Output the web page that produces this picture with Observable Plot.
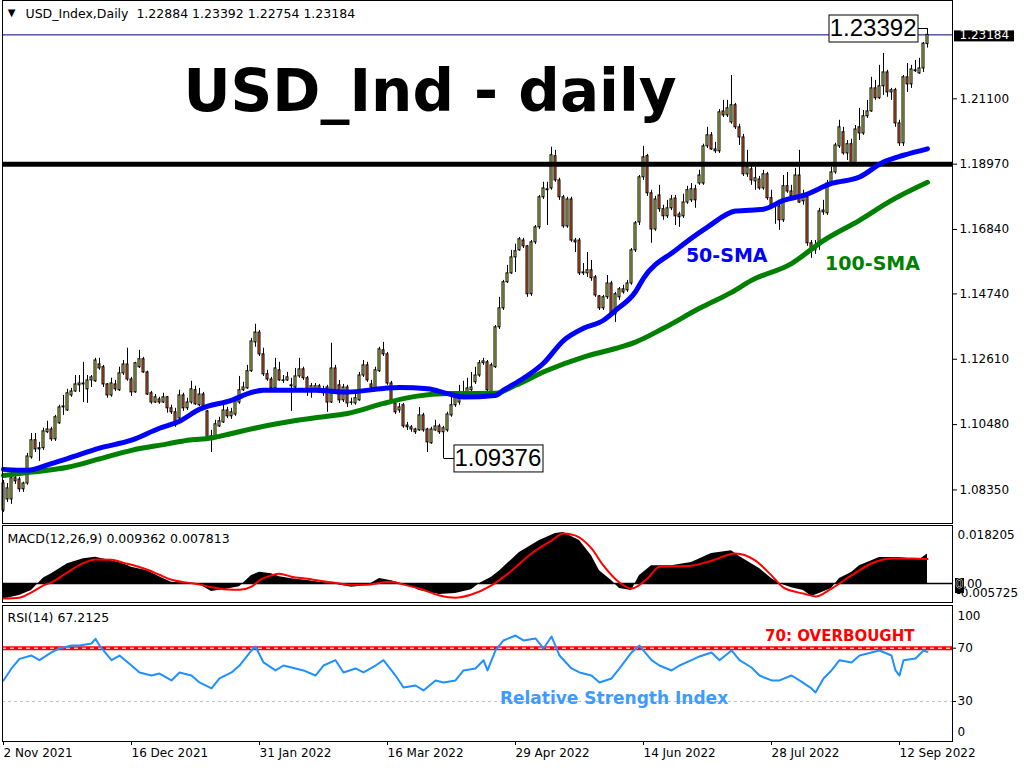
<!DOCTYPE html>
<html><head><meta charset="utf-8">
<script src="https://cdn.jsdelivr.net/npm/d3@7"></script>
<script src="https://cdn.jsdelivr.net/npm/@observablehq/plot@0.6"></script>
<style>
body{margin:0;background:#fff;}
#wrap{position:relative;width:1024px;height:768px;overflow:hidden;background:#fff;}
</style></head><body><div id="wrap"></div>
<script>
// ---------- DATA ----------
const openP = [
1.0768,1.0804,1.0804,1.0873,1.0869,1.0837,1.0856,1.0941,1.0997,1.0971,
1.0971,1.1023,1.1032,1.1000,1.1052,1.1104,1.1094,1.1143,1.1156,1.1176,
1.1179,1.1163,1.1192,1.1189,1.1244,1.1235,1.1179,1.1143,1.1179,1.1160,
1.1215,1.1244,1.1195,1.1153,1.1235,1.1261,1.1218,1.1150,1.1120,1.1130,
1.1120,1.1137,1.1101,1.1088,1.1068,1.1143,1.1101,1.1120,1.1160,1.1111,
1.1146,1.1091,1.1006,1.1006,1.1042,1.1055,1.1094,1.1075,1.1081,1.1120,
1.1160,1.1166,1.1222,1.1316,1.1348,1.1277,1.1212,1.1195,1.1166,1.1225,
1.1192,1.1192,1.1173,1.1169,1.1205,1.1228,1.1199,1.1160,1.1163,1.1173,
1.1160,1.1169,1.1120,1.1231,1.1176,1.1127,1.1169,1.1120,1.1117,1.1127,
1.1208,1.1241,1.1179,1.1166,1.1222,1.1290,1.1277,1.1182,1.1117,1.1094,
1.1111,1.1045,1.1039,1.1032,1.1029,1.1078,1.1032,1.0987,1.1029,1.1042,
1.1023,1.1029,1.1078,1.1111,1.1120,1.1140,1.1150,1.1160,1.1186,1.1208,
1.1248,1.1251,1.1153,1.1235,1.1365,1.1427,1.1512,1.1541,1.1593,1.1616,
1.1648,1.1629,1.1473,1.1642,1.1691,1.1789,1.1815,1.1818,1.1923,1.1844,
1.1789,1.1694,1.1782,1.1648,1.1648,1.1544,1.1541,1.1551,1.1528,1.1466,
1.1427,1.1463,1.1508,1.1407,1.1463,1.1489,1.1486,1.1508,1.1616,1.1707,
1.1854,1.1923,1.1802,1.1684,1.1795,1.1750,1.1727,1.1753,1.1785,1.1733,
1.1727,1.1772,1.1779,1.1815,1.1834,1.1834,1.1955,1.1991,1.1945,1.1939,
1.2069,1.2056,1.2033,1.2089,1.2017,1.1984,1.1864,1.1880,1.1841,1.1847,
1.1818,1.1864,1.1786,1.1763,1.1759,1.1714,1.1825,1.1808,1.1789,1.1860,
1.1776,1.1789,1.1639,1.1616,1.1632,1.1746,1.1737,1.1834,1.1870,1.1955,
1.2001,1.1932,1.1962,1.1900,1.2017,1.1997,1.2053,1.2069,1.2144,1.2112,
1.2151,1.2196,1.2131,1.2138,1.2030,1.1965,1.2180,1.2157,1.2203,1.2193,
1.2209,1.22884];
const highP = [
1.0866,1.0856,1.0876,1.0882,1.0876,1.0860,1.0954,1.1019,1.1019,1.0990,
1.1036,1.1059,1.1039,1.1078,1.1111,1.1143,1.1163,1.1166,1.1208,1.1208,
1.1251,1.1208,1.1208,1.1264,1.1264,1.1241,1.1182,1.1199,1.1192,1.1235,
1.1257,1.1297,1.1202,1.1251,1.1290,1.1267,1.1222,1.1156,1.1146,1.1137,
1.1150,1.1140,1.1111,1.1101,1.1160,1.1150,1.1134,1.1189,1.1173,1.1166,
1.1153,1.1094,1.1029,1.1062,1.1072,1.1117,1.1104,1.1101,1.1140,1.1205,
1.1186,1.1241,1.1329,1.1375,1.1355,1.1297,1.1225,1.1202,1.1264,1.1251,
1.1208,1.1218,1.1199,1.1231,1.1264,1.1235,1.1205,1.1182,1.1182,1.1179,
1.1173,1.1176,1.1313,1.1241,1.1192,1.1179,1.1176,1.1134,1.1146,1.1218,
1.1257,1.1251,1.1192,1.1235,1.1300,1.1316,1.1283,1.1189,1.1127,1.1117,
1.1117,1.1055,1.1045,1.1036,1.1104,1.1085,1.1036,1.1039,1.1062,1.1049,
1.1042,1.1088,1.1137,1.1150,1.1176,1.1189,1.1199,1.1218,1.1235,1.1257,
1.1264,1.1257,1.1248,1.1371,1.1463,1.1518,1.1567,1.1616,1.1636,1.1658,
1.1655,1.1632,1.1648,1.1697,1.1795,1.1838,1.1838,1.1952,1.1942,1.1851,
1.1795,1.1789,1.1789,1.1655,1.1655,1.1573,1.1609,1.1583,1.1534,1.1469,
1.1469,1.1534,1.1515,1.1479,1.1495,1.1502,1.1518,1.1622,1.1710,1.1860,
1.1955,1.1929,1.1812,1.1792,1.1828,1.1763,1.1779,1.1795,1.1795,1.1740,
1.1799,1.1825,1.1834,1.1828,1.1877,1.1962,1.2017,1.2000,1.1968,1.2075,
1.2105,1.2105,1.2186,1.2095,1.2027,1.1994,1.1942,1.1897,1.1887,1.1857,
1.1877,1.1870,1.1812,1.1772,1.1766,1.1860,1.1870,1.1828,1.1883,1.1942,
1.1812,1.1795,1.1648,1.1648,1.1753,1.1779,1.1844,1.1887,1.1965,1.2040,
1.2017,1.1974,1.1978,1.2023,1.2079,1.2072,1.2105,1.2180,1.2170,1.2219,
1.2258,1.2203,1.2144,1.2144,1.2040,1.2186,1.2225,1.2219,1.2235,1.2242,
1.2294,1.23392];
const lowP = [
1.0762,1.0794,1.0788,1.0853,1.0827,1.0827,1.0850,1.0935,1.0957,1.0928,
1.0964,1.1019,1.0993,1.0993,1.1049,1.1078,1.1091,1.1137,1.1153,1.1153,
1.1120,1.1117,1.1169,1.1186,1.1225,1.1169,1.1134,1.1137,1.1156,1.1156,
1.1208,1.1189,1.1140,1.1150,1.1231,1.1215,1.1143,1.1114,1.1117,1.1114,
1.1117,1.1085,1.1081,1.1039,1.1062,1.1091,1.1094,1.1114,1.1111,1.1107,
1.1101,1.0997,1.0957,1.1003,1.1039,1.1052,1.1068,1.1065,1.1075,1.1114,
1.1156,1.1163,1.1218,1.1300,1.1270,1.1205,1.1189,1.1160,1.1163,1.1189,
1.1182,1.1189,1.1091,1.1166,1.1199,1.1192,1.1140,1.1134,1.1153,1.1150,
1.1140,1.1088,1.1117,1.1153,1.1117,1.1120,1.1104,1.1111,1.1111,1.1124,
1.1202,1.1186,1.1160,1.1160,1.1218,1.1270,1.1176,1.1120,1.1081,1.1085,
1.1036,1.1029,1.1023,1.1016,1.1026,1.1023,1.0957,1.0984,1.1026,1.1016,
1.09376,1.1023,1.1072,1.1104,1.1111,1.1134,1.1134,1.1153,1.1179,1.1202,
1.1241,1.1150,1.1150,1.1231,1.1358,1.1420,1.1508,1.1538,1.1544,1.1613,
1.1622,1.1463,1.1466,1.1635,1.1684,1.1782,1.1697,1.1812,1.1838,1.1779,
1.1688,1.1688,1.1642,1.1609,1.1534,1.1534,1.1528,1.1515,1.1463,1.1420,
1.1420,1.1456,1.1404,1.1381,1.1453,1.1473,1.1479,1.1502,1.1609,1.1697,
1.1844,1.1792,1.1639,1.1678,1.1740,1.1714,1.1720,1.1746,1.1697,1.1691,
1.1720,1.1766,1.1772,1.1753,1.1828,1.1828,1.1948,1.1942,1.1932,1.1932,
1.2049,1.2049,1.2027,1.2010,1.1958,1.1857,1.1854,1.1828,1.1812,1.1812,
1.1812,1.1779,1.1756,1.1701,1.1681,1.1707,1.1802,1.1785,1.1782,1.1769,
1.1763,1.1629,1.1590,1.1603,1.1616,1.1730,1.1730,1.1828,1.1864,1.1948,
1.1926,1.1909,1.1890,1.1893,1.1974,1.1991,1.2046,1.2066,1.2105,1.2108,
1.2121,1.2115,1.2105,1.2017,1.1955,1.1955,1.2131,1.2144,1.2196,1.2190,
1.2196,1.22754];
const closeP = [
1.0856,1.0840,1.0873,1.0863,1.0837,1.0856,1.0944,1.0997,1.0967,1.0967,
1.1026,1.1032,1.1000,1.1072,1.1104,1.1107,1.1150,1.1156,1.1179,1.1182,
1.1182,1.1192,1.1202,1.1257,1.1231,1.1179,1.1143,1.1182,1.1163,1.1215,
1.1244,1.1195,1.1153,1.1248,1.1261,1.1218,1.1146,1.1120,1.1137,1.1120,
1.1137,1.1101,1.1088,1.1045,1.1143,1.1101,1.1120,1.1163,1.1114,1.1146,
1.1107,1.1006,1.1010,1.1049,1.1059,1.1094,1.1075,1.1088,1.1127,1.1160,
1.1169,1.1222,1.1319,1.1348,1.1277,1.1212,1.1195,1.1166,1.1231,1.1192,
1.1190,1.1202,1.1176,1.1205,1.1228,1.1199,1.1160,1.1173,1.1173,1.1160,
1.1150,1.1120,1.1231,1.1160,1.1127,1.1169,1.1117,1.1119,1.1134,1.1208,
1.1241,1.1192,1.1169,1.1225,1.1293,1.1277,1.1182,1.1127,1.1088,1.1104,
1.1042,1.1039,1.1032,1.1023,1.1078,1.1029,1.0990,1.1032,1.1042,1.1023,
1.1036,1.1081,1.1111,1.1137,1.1143,1.1153,1.1166,1.1169,1.1208,1.1248,
1.1254,1.1160,1.1241,1.1365,1.1427,1.1512,1.1541,1.1593,1.1613,1.1652,
1.1629,1.1473,1.1642,1.1691,1.1789,1.1818,1.1812,1.1926,1.1844,1.1789,
1.1694,1.1782,1.1648,1.1642,1.1541,1.1541,1.1551,1.1525,1.1469,1.1427,
1.1463,1.1508,1.1411,1.1473,1.1489,1.1479,1.1508,1.1616,1.1704,1.1854,
1.1919,1.1802,1.1684,1.1782,1.1750,1.1727,1.1753,1.1782,1.1727,1.1724,
1.1772,1.1812,1.1815,1.1779,1.1860,1.1955,1.1991,1.1945,1.1939,1.2066,
1.2056,1.2079,1.2089,1.2017,1.1984,1.1864,1.1887,1.1844,1.1851,1.1818,
1.1864,1.1786,1.1763,1.1759,1.1714,1.1825,1.1808,1.1792,1.1860,1.1772,
1.1789,1.1639,1.1616,1.1629,1.1743,1.1740,1.1834,1.1870,1.1958,1.2017,
1.1932,1.1962,1.1900,1.2010,1.1997,1.2053,1.2069,1.2144,1.2112,1.2151,
1.2196,1.2131,1.2138,1.2030,1.1965,1.2180,1.2157,1.2206,1.2200,1.2209,
1.2290,1.23184];

const sma50Idx = [0,6,12,16,24,32,39,44,49,57,62,65,78,86,95,99,106,111,115,123,125,130,135,140,145,150,153,158,160,168,176,183,190,195,200,207,214,220,225,231];
const sma50Val = [1.0902,1.0899,1.0921,1.0937,1.0971,1.0997,1.1036,1.1059,1.1098,1.1127,1.1153,1.1160,1.1160,1.1154,1.1166,1.1169,1.1165,1.1149,1.1138,1.1143,1.1160,1.1199,1.1248,1.1322,1.1362,1.1388,1.1420,1.1481,1.1525,1.1616,1.1692,1.1744,1.1750,1.1779,1.1795,1.1834,1.1855,1.1904,1.1926,1.1947];
const sma100Idx = [0,7,16,24,32,41,46,52,57,66,72,79,86,95,103,111,123,128,136,145,153,158,165,174,182,187,197,205,214,222,231];
const sma100Val = [1.0882,1.0893,1.0909,1.0936,1.0964,1.0985,1.0997,1.1004,1.1019,1.1045,1.1059,1.1072,1.1084,1.1117,1.1140,1.1149,1.1150,1.1176,1.1225,1.1268,1.1296,1.1317,1.1362,1.1427,1.1479,1.1518,1.1573,1.1648,1.1714,1.1779,1.1838];

const macdIdx = [0,4,7,10,12,16,20,23,27,30,32,36,39,42,46,49,52,56,59,62,64,67,69,72,76,79,82,87,91,94,97,102,104,109,113,117,119,122,124,129,134,138,140,144,147,149,152,154,157,159,162,167,172,177,182,184,189,192,194,197,200,202,204,207,209,212,214,219,224,229,231];
const macdVal = [-0.0049,-0.0038,-0.0022,0.0018,0.0031,0.0063,0.0079,0.0084,0.0073,0.0063,0.0052,0.0041,0.0022,0.0004,0.0001,-0.0003,-0.0025,-0.0017,-0.0010,0.0026,0.0036,0.0031,0.0022,0.0015,0.0010,0.0004,0.0000,-0.0012,-0.0006,0.0016,0.0009,-0.0010,-0.0022,-0.0035,-0.0032,-0.0020,0.0000,0.0020,0.0040,0.0099,0.0137,0.0160,0.0163,0.0137,0.0089,0.0041,0.0010,-0.0016,-0.0022,0.0026,0.0057,0.0057,0.0067,0.0096,0.0105,0.0086,0.0048,0.0016,0.0000,-0.0013,-0.0022,-0.0041,-0.0032,-0.0016,0.0016,0.0035,0.0057,0.0083,0.0083,0.0076,0.0094];
const sigIdx = [0,4,7,10,12,16,20,23,27,30,32,36,39,42,46,49,52,56,59,62,64,67,69,72,76,79,82,87,91,94,97,99,104,109,113,117,122,127,132,137,140,143,147,150,154,157,161,164,172,177,183,188,192,195,200,203,207,212,217,222,227,231];
const sigVal = [-0.0048,-0.0045,-0.0028,-0.0006,0.0004,0.0036,0.0065,0.0077,0.0076,0.0066,0.0060,0.0044,0.0028,0.0012,0.0003,-0.0003,-0.0012,-0.0019,-0.0020,-0.0010,0.0010,0.0026,0.0031,0.0022,0.0015,0.0009,0.0004,-0.0004,-0.0004,0.0002,0.0006,0.0000,-0.0016,-0.0038,-0.0045,-0.0035,-0.0006,0.0041,0.0096,0.0137,0.0160,0.0153,0.0112,0.0057,0.0003,-0.0016,0.0016,0.0054,0.0057,0.0073,0.0096,0.0073,0.0026,-0.0013,-0.0032,-0.0041,-0.0016,0.0026,0.0064,0.0080,0.0080,0.0078];
const macdMain = 0.009362, macdSignal = 0.007813, macdMax = 0.018205, macdMin = -0.005725;

const rsiIdx = [0,2,4,7,9,12,14,17,19,22,23,24,27,29,32,34,37,39,42,44,47,49,52,54,57,59,62,63,65,68,70,73,75,78,80,83,85,88,90,93,95,98,100,103,105,108,110,113,115,118,120,121,123,125,128,130,133,135,137,139,142,144,147,149,152,154,157,159,162,164,167,169,172,174,177,179,182,184,187,189,192,194,197,199,202,203,205,207,209,212,214,217,219,222,223,224,225,228,230,231];
const rsiVal = [45.8,54.8,62,64.5,61,66.8,69.8,72,72,73.5,77,72,61,64.5,57,51.8,49.5,51,45.8,51.8,49.5,44.3,39.8,47.3,51.8,57,68.3,71.3,59.3,53.3,57,54.8,53.3,49.5,57,61,51.8,54.8,51.8,57,61,49.5,40.5,42,38.3,45.8,44.3,45.8,53.3,54.8,61,53.3,68.3,75.8,79.5,75.8,77.3,69.8,78.8,64.5,54.8,51.8,49.5,44.3,47.3,54.8,66.8,72,61,57,53.3,57,61,63.8,66.8,61,68.3,61,55.5,49.5,45.8,45.8,49.5,45.8,39.8,36.8,47.3,53.3,61,59.3,64.5,66.8,68.3,64.5,53.3,49.5,61,62.3,68.3,67.2];
const rsiLast = 67.2125;
const rsiLevels = [30, 70];

const xTickIdx = [0,32,64,96,128,160,192,224];
const xTickLabels = ["2 Nov 2021","16 Dec 2021","31 Jan 2022","16 Mar 2022","29 Apr 2022","14 Jun 2022","28 Jul 2022","12 Sep 2022"];
const yTicks = [1.2110,1.1897,1.1684,1.1474,1.1261,1.1048,1.0835];
const levelLine = 1.1897;
const lowMark = {i:110, v:1.09376};
const highMark = {i:231, v:1.23392};
const mainNotes = [{t:"50-SMA", i:170.6, v:1.1599, c:"#0000ff"}, {t:"100-SMA", i:205.4, v:1.1573, c:"#008000"}];
const rsiNotes = [{t:"70: OVERBOUGHT", i:190.4, v:78.8, c:"#ff0000"}, {t:"Relative Strength Index", i:124.1, v:32.3, c:"#3d9bff"}];

// ---------- DRAWING ----------
const FONT = "DejaVu Sans, sans-serif";
const bull = "#d8e860", bear = "#f46c2c";
const last = closeP.length - 1;
const candles = closeP.map((c, i) => ({i, o: openP[i], h: highP[i], l: lowP[i], c}));
const sma50 = sma50Idx.map((i, k) => ({i, v: sma50Val[k]}));
const sma100 = sma100Idx.map((i, k) => ({i, v: sma100Val[k]}));
const macdD = macdIdx.map((i, k) => ({i, v: macdVal[k]}));
const sigD = sigIdx.map((i, k) => ({i, v: sigVal[k]}));
const rsiD = rsiIdx.map((i, k) => ({i, v: rsiVal[k]}));
const lastClose = closeP[last];
const f5 = d3.format(".5f");
const header = "USD_Index,Daily\u00a0\u00a0" + [openP[last], highP[last], lowP[last], closeP[last]].map(f5).join(" ");
// Plot adds a 0.5px offset at devicePixelRatio 1, so integer pixel ranges give crisp 1px lines
const XS = {domain: [0, 231], range: [3, 927]};
const baseStyle = {fontFamily: FONT, fontSize: "12px", color: "black", background: "transparent", overflow: "visible"};

const main = Plot.plot({
  width: 1024, height: 524, marginLeft: 2, marginRight: 72, marginTop: 0, marginBottom: 1,
  x: {...XS, axis: null},
  y: {domain: [1.07288, 1.24305], range: [522, 0]},
  color: {type: "identity"},
  style: baseStyle,
  marks: [
    Plot.ruleY([lastClose], {stroke: "#000080", strokeWidth: 1}),
    Plot.ruleX(candles, {x: "i", y1: "l", y2: "h", stroke: "black", strokeWidth: 1}),
    Plot.rect(candles, {x1: d => d.i - 0.25, x2: d => d.i + 0.25, y1: "o", y2: "c",
      fill: d => d.c >= d.o ? bull : bear, stroke: "black", strokeWidth: 1}),
    Plot.ruleY([levelLine], {stroke: "black", strokeWidth: 5}),
    Plot.line(sma100, {x: "i", y: "v", stroke: "#008000", strokeWidth: 5, curve: "monotone-x"}),
    Plot.line(sma50, {x: "i", y: "v", stroke: "#0000ff", strokeWidth: 5, curve: "monotone-x"}),
    Plot.axisY({anchor: "right", ticks: yTicks, tickFormat: f5, tickSize: 4, tickPadding: 3, label: null}),
    Plot.text([lastClose], {y: d => d, text: d => f5(d), frameAnchor: "right", dx: 7, textAnchor: "start", fill: "white"}),
    Plot.text(["\u25BC"], {text: d => d, frameAnchor: "top-left", lineAnchor: "middle", dx: 9, dy: 12.5, fontSize: 10, textAnchor: "middle"}),
    Plot.text([header], {text: d => d, frameAnchor: "top-left", lineAnchor: "middle", dx: 23, dy: 13, textAnchor: "start", fontSize: 12.5}),
    Plot.text(["USD_Ind - daily"], {text: d => d, frameAnchor: "top-left", lineAnchor: "middle", dx: 181, dy: 92, textAnchor: "start",
      fontSize: 58, fontWeight: "bold", fontFamily: FONT}),
    Plot.text(mainNotes, {x: "i", y: "v", text: "t", fill: "c", textAnchor: "start", fontSize: 19, fontWeight: "bold"}),
    Plot.text([highMark], {x: "i", y: "v", text: d => f5(d.v), textAnchor: "end", dx: -11, fontSize: 24, fontFamily: "Liberation Sans, Arial, sans-serif"}),
    Plot.text([lowMark], {x: "i", y: "v", text: d => f5(d.v), textAnchor: "start", dx: 11, fontSize: 24, fontFamily: "Liberation Sans, Arial, sans-serif"}),
    Plot.frame({stroke: "black"})
  ]
});

const macd = Plot.plot({
  width: 1024, height: 80, marginLeft: 2, marginRight: 72, marginTop: 1, marginBottom: 2,
  x: {...XS, axis: null},
  y: {domain: [macdMin, macdMax], range: [77, 2], axis: null},
  style: baseStyle,
  marks: [
    Plot.areaY(macdD, {x: "i", y: "v", fill: "black"}),
    Plot.ruleY([0], {stroke: "black", strokeWidth: 1.5}),
    Plot.line(sigD, {x: "i", y: "v", stroke: "#ff0000", strokeWidth: 2, curve: "monotone-x"}),
    Plot.text(["MACD(12,26,9) " + macdMain.toFixed(6) + " " + macdSignal.toFixed(6)], {text: d => d, frameAnchor: "top-left", lineAnchor: "middle", dx: 5, dy: 13, textAnchor: "start", fontSize: 12.5}),
    Plot.text([macdMax], {y: d => d, text: d => d.toFixed(6), frameAnchor: "right", dx: 5, dy: 9, textAnchor: "start"}),
    Plot.text([macdMin], {y: d => d, text: d => d.toFixed(6), frameAnchor: "right", dx: 4, dy: -8, textAnchor: "start"}),
    Plot.text([0], {y: d => d, text: d => d.toFixed(2), frameAnchor: "right", dx: 3, dy: 1, textAnchor: "start", fill: "black", stroke: "white", strokeWidth: 0.8}),
    Plot.frame({stroke: "black"})
  ]
});

const rsi = Plot.plot({
  width: 1024, height: 164, marginLeft: 2, marginRight: 72, marginTop: 1, marginBottom: 27,
  x: XS,
  y: {domain: [0, 100], range: [137, 3.7]},
  style: baseStyle,
  marks: [
    Plot.ruleY([rsiLevels[0]], {stroke: "#c0c0c0", strokeDasharray: "3,3"}),
    Plot.ruleY([rsiLevels[1]], {stroke: "#ff0000", strokeWidth: 4}),
    Plot.ruleY([rsiLevels[1]], {stroke: "white", strokeDasharray: "4,4", strokeWidth: 1}),
    Plot.line(rsiD, {x: "i", y: "v", stroke: "#1e90ff", strokeWidth: 2}),
    Plot.text(rsiNotes.slice(0, 1), {x: "i", y: "v", text: "t", fill: "c", textAnchor: "start", fontSize: 15, fontWeight: "bold"}),
    Plot.text(rsiNotes.slice(1), {x: "i", y: "v", text: "t", fill: "c", textAnchor: "start", fontSize: 17, fontWeight: "bold"}),
    Plot.text(["RSI(14) " + rsiLast.toFixed(4)], {text: d => d, frameAnchor: "top-left", lineAnchor: "middle", dx: 5, dy: 12, textAnchor: "start", fontSize: 12.5}),
    Plot.axisY({anchor: "right", ticks: rsiLevels, tickSize: 3, tickPadding: 2, label: null}),
    Plot.text([100], {y: d => d, text: d => String(d), frameAnchor: "right", dx: 5, dy: 8, textAnchor: "start"}),
    Plot.text([0], {y: d => d, text: d => String(d), frameAnchor: "right", dx: 5, dy: -9, textAnchor: "start"}),
    Plot.axisX({ticks: xTickIdx, tickFormat: d => xTickLabels[xTickIdx.indexOf(d)], textAnchor: "start", tickSize: 4, tickPadding: 3, label: null}),
    Plot.frame({stroke: "black"})
  ]
});

const wrap = document.getElementById("wrap");
[[main, 0], [macd, 524], [rsi, 604]].forEach(([svg, top]) => {
  svg.style.position = "absolute"; svg.style.left = "0px"; svg.style.top = top + "px";
  wrap.appendChild(svg);
});

// ---------- label boxes ----------
const NS = "http://www.w3.org/2000/svg";
function addBox(svg, str, o) {
  const t = Array.from(svg.querySelectorAll("text")).find(e => e.textContent === str);
  if (!t) return null;
  const b = t.getBBox();
  const r = document.createElementNS(NS, "rect");
  const x = Math.round(b.x - o.l) + 0.5, y = Math.round(b.y - o.t) + 0.5;
  const w = Math.round(o.w != null ? o.w : b.width + o.l + o.r);
  r.setAttribute("x", x); r.setAttribute("y", y);
  r.setAttribute("width", w); r.setAttribute("height", Math.round(b.height + o.t + o.b));
  r.setAttribute("fill", o.fill); r.setAttribute("stroke", o.stroke || "none");
  if (t.getAttribute("transform")) r.setAttribute("transform", t.getAttribute("transform"));
  t.parentNode.insertBefore(r, t);
  return r;
}
function leader(svg, rect, side, xv, yv, chart) {
  const sb = svg.getBoundingClientRect(), rb = rect.getBoundingClientRect();
  const xp = chart.scale("x").apply(xv) + 0.5, yp = Math.round(chart.scale("y").apply(yv)) + 0.5;
  const ex = side === "right" ? rb.right - sb.left : rb.left - sb.left;
  const ln = document.createElementNS(NS, "line");
  ln.setAttribute("x1", ex); ln.setAttribute("x2", xp);
  ln.setAttribute("y1", yp); ln.setAttribute("y2", yp);
  ln.setAttribute("stroke", "black"); ln.setAttribute("stroke-width", 1);
  svg.appendChild(ln);
}
const hb = addBox(main, f5(highMark.v), {l: 1, r: 1, t: 0, b: 0, fill: "white", stroke: "black"});
if (hb) leader(main, hb, "right", highMark.i, highMark.v, main);
const lb = addBox(main, f5(lowMark.v), {l: 1, r: 1, t: 0, b: 0, fill: "white", stroke: "black"});
if (lb) leader(main, lb, "left", lowMark.i, lowMark.v, main);
addBox(main, f5(lastClose), {l: 6, r: 4, t: -2, b: -1, fill: "black"});
addBox(macd, "0.00", {l: 1.5, r: 0, t: 0, b: 1, w: 9, fill: "black"});
</script>
</body></html>
